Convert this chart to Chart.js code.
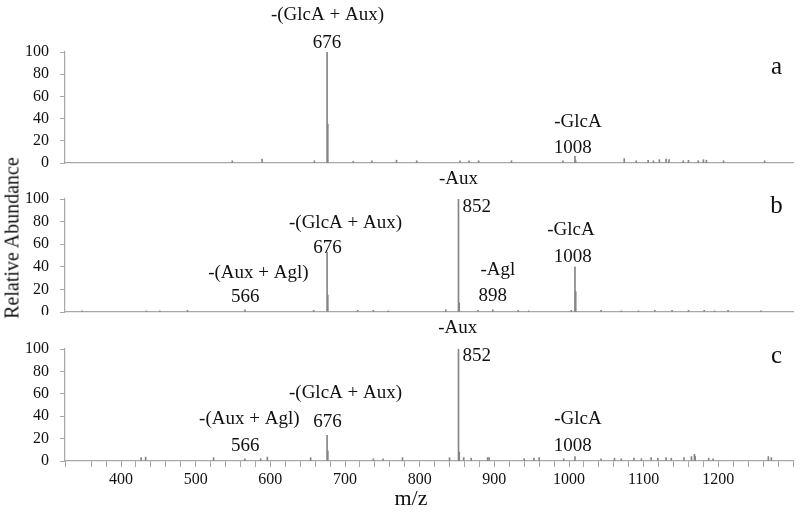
<!DOCTYPE html>
<html>
<head>
<meta charset="utf-8">
<script src="https://cdn.jsdelivr.net/npm/chart.js@4"></script>
<style>
body { margin: 0; background: #fff; }
#wrap { position: relative; width: 800px; height: 517px; font-family: 'Liberation Serif', 'Times New Roman', 'DejaVu Serif', serif; color: #111; }
canvas { position: absolute; left: 0; }
.ttl { position: absolute; white-space: nowrap; }
#yTitle { left: 12px; top: 238px; font-size: 20px; transform: translate(-50%, -50%) rotate(-90deg); }
#xTitle { left: 411px; top: 498px; font-size: 22px; transform: translate(-50%, -50%); }
</style>
</head>
<body>
<div id="wrap">
  <canvas id="panelA" style="top:0px;width:800px;height:170px" width="800" height="170"></canvas>
  <canvas id="panelB" style="top:170px;width:800px;height:145px" width="800" height="145"></canvas>
  <canvas id="panelC" style="top:315px;width:800px;height:202px" width="800" height="202"></canvas>
  <div class="ttl" id="yTitle">Relative Abundance</div>
  <div class="ttl" id="xTitle">m/z</div>
</div>
<script>
// peak lists (m/z, relative abundance)
const mzA  = [549, 589, 659, 676, 677, 711, 736, 769, 796, 854, 866, 879, 923, 992, 1008, 1009, 1074, 1090, 1106, 1113, 1121, 1130, 1134, 1153, 1160, 1173, 1180, 1184, 1207, 1262];
const relA = [2, 3.5, 2, 100, 35, 1.5, 2, 2.5, 2, 2, 2, 2, 2, 2, 6, 2, 4, 2, 2.5, 2, 3, 3.5, 3, 2, 2.5, 2, 3, 2.5, 2, 2];

const mzB  = [348, 434, 452, 489, 566, 658, 676, 677, 717, 738, 758, 835, 852, 853, 878, 898, 932, 946, 1003, 1008, 1009, 1043, 1070, 1093, 1115, 1138, 1160, 1181, 1195, 1213, 1257];
const relB = [1, 1, 1, 1.5, 2, 1.5, 53, 15, 1.5, 1.5, 1, 2, 100, 8, 1.5, 2, 1.5, 1, 1.5, 40, 18, 1.5, 1, 1, 1.5, 1.5, 1.5, 1.5, 1, 1.5, 1];

const mzC  = [427, 433, 524, 566, 587, 596, 654, 676, 677, 738, 751, 777, 840, 852, 853, 859, 869, 891, 893, 940, 953, 960, 993, 1008, 1043, 1061, 1070, 1087, 1097, 1110, 1119, 1130, 1137, 1154, 1164, 1168, 1169, 1187, 1193, 1267, 1271];
const relC = [3, 3.5, 3, 2, 2, 3.5, 3, 23, 9, 2, 2, 3, 3, 100, 8, 3, 2.5, 3, 3, 2, 2.5, 3, 2, 4, 2, 2.5, 2, 2.5, 2, 3, 2.5, 3, 2.5, 3, 4, 6, 4, 2.5, 2, 4, 3];

// annotations: text, m/z, abundance
const notesA = [['-(GlcA + Aux)', 676.5, 133], ['676', 676, 108], ['-GlcA', 1012, 37], ['1008', 1005, 13.5]];
const notesB = [['-Aux', 852, 118], ['852', 876.5, 93], ['-(GlcA + Aux)', 700.7, 79], ['676', 676.5, 57],
                ['-(Aux + Agl)', 584, 34.5], ['566', 566.4, 13], ['-Agl', 904.7, 37], ['898', 898, 14],
                ['-GlcA', 1002.7, 72.6], ['1008', 1005, 48.7]];
const notesC = [['-Aux', 851, 119], ['852', 876.5, 94], ['-(GlcA + Aux)', 700.7, 61], ['676', 676.5, 35],
                ['-(Aux + Agl)', 571.8, 37.5], ['566', 566.4, 13.4], ['-GlcA', 1012, 37.5], ['1008', 1005, 13.4]];

const yTicks = [0, 20, 40, 60, 80, 100];
const xLabels = [400, 500, 600, 700, 800, 900, 1000, 1100, 1200];

const FONT = "'Liberation Serif', 'Times New Roman', 'DejaVu Serif', serif";
const axisGray = '#a8a8a8';
const peakGray = '#858585';

const notePlugin = {
  id: 'notes',
  afterDraw(chart, args, opts) {
    const ctx = chart.ctx;
    const x = chart.scales.x, y = chart.scales.y;
    ctx.save();
    ctx.fillStyle = '#111';
    ctx.textAlign = 'center';
    ctx.textBaseline = 'middle';
    ctx.font = '19px ' + FONT;
    opts.notes.forEach(n => ctx.fillText(n[0], x.getPixelForValue(n[1]), y.getPixelForValue(n[2])));
    ctx.font = '25px ' + FONT;
    ctx.fillText(opts.letter, x.getPixelForValue(1278), y.getPixelForValue(opts.letterY));
    ctx.restore();
  }
};

function makePanel(id, mz, rel, notes, letter, letterY, pad, bottom) {
  const ctx = document.getElementById(id).getContext('2d');
  return new Chart(ctx, {
    type: 'bar',
    data: {
      datasets: [{
        data: mz.map((m, i) => ({ x: m, y: rel[i] })),
        backgroundColor: peakGray,
        borderWidth: 0,
        barThickness: 1
      }]
    },
    options: {
      responsive: false,
      animation: false,
      layout: { padding: { top: pad[0], right: 7, bottom: pad[1], left: 0 } },
      plugins: {
        legend: { display: false },
        tooltip: { enabled: false },
        notes: { notes: notes, letter: letter, letterY: letterY }
      },
      scales: {
        x: {
          type: 'linear',
          min: 325,
          max: 1300,
          offset: false,
          grid: { display: bottom, offset: false, drawOnChartArea: false, color: axisGray, tickLength: 6 },
          border: { display: true, color: axisGray, width: 1.2 },
          ticks: {
            display: bottom,
            stepSize: 20,
            autoSkip: false,
            maxRotation: 0,
            padding: 3,
            color: '#111',
            font: { family: FONT, size: 16 },
            callback: v => xLabels.includes(v) ? String(v) : ''
          },
          afterFit: s => {
            s.height = bottom ? 56 : 0;
            s.paddingLeft = 0; s.paddingRight = 0;
          }
        },
        y: {
          min: 0,
          max: 100,
          afterBuildTicks: s => { s.ticks = yTicks.map(v => ({ value: v })); },
          grid: { drawOnChartArea: false, color: axisGray, tickLength: 5 },
          border: { display: true, color: axisGray, width: 1.2 },
          ticks: { color: '#111', padding: 11, font: { family: FONT, size: 16 } },
          afterFit: s => {
            s.width = 65;
            s.paddingTop = 0; s.paddingBottom = 0;
          }
        }
      }
    },
    plugins: [notePlugin]
  });
}

makePanel('panelA', mzA, relA, notesA, 'a', 86, [52, 7], false);
makePanel('panelB', mzB, relB, notesB, 'b', 93, [29, 3], false);
makePanel('panelC', mzC, relC, notesC, 'c', 93, [34, 0], true);
</script>
</body>
</html>
